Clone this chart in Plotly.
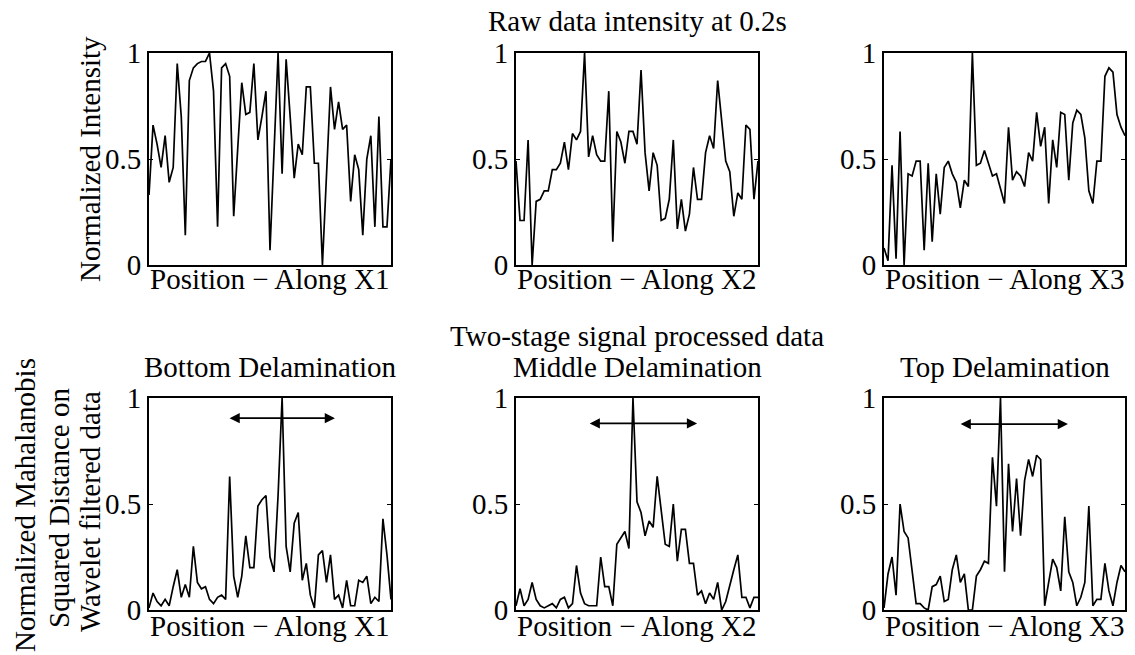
import plotly.graph_objects as go

W, H = 1135, 655

# ---------------- data ----------------
raw_x1 = [0.33, 0.66, 0.57, 0.46, 0.61, 0.39, 0.46, 0.95, 0.70, 0.14,
          0.87, 0.93, 0.95, 0.96, 0.96, 1.00, 0.82, 0.18, 0.93, 0.95,
          0.89, 0.23, 0.55, 0.86, 0.71, 0.72, 0.95, 0.59, 0.70, 0.82,
          0.07, 0.50, 1.00, 0.43, 0.97, 0.70, 0.41, 0.57, 0.52, 0.84,
          0.84, 0.48, 0.48, 0.00, 0.42, 0.84, 0.64, 0.77, 0.64, 0.66,
          0.30, 0.52, 0.45, 0.14, 0.50, 0.61, 0.18, 0.70, 0.18, 0.18,
          0.50]
raw_x2 = [0.49, 0.21, 0.21, 0.59, 0.00, 0.30, 0.31, 0.35, 0.35, 0.45,
          0.45, 0.48, 0.58, 0.45, 0.62, 0.59, 0.63, 1.00, 0.51, 0.61,
          0.52, 0.49, 0.49, 0.82, 0.11, 0.63, 0.58, 0.48, 0.63, 0.63,
          0.57, 0.92, 0.53, 0.35, 0.53, 0.47, 0.21, 0.22, 0.31, 0.59,
          0.17, 0.31, 0.16, 0.24, 0.46, 0.31, 0.31, 0.53, 0.61, 0.55,
          0.87, 0.67, 0.49, 0.44, 0.23, 0.34, 0.31, 0.66, 0.64, 0.31,
          0.49]
raw_x3 = [0.08, 0.02, 0.47, 0.03, 0.63, 0.00, 0.43, 0.42, 0.49, 0.49,
          0.07, 0.48, 0.11, 0.43, 0.24, 0.46, 0.49, 0.43, 0.39, 0.27,
          0.40, 0.37, 1.00, 0.47, 0.48, 0.54, 0.48, 0.42, 0.43, 0.36,
          0.29, 0.65, 0.40, 0.44, 0.42, 0.37, 0.53, 0.49, 0.72, 0.56,
          0.65, 0.29, 0.59, 0.46, 0.72, 0.71, 0.40, 0.67, 0.73, 0.71,
          0.60, 0.35, 0.29, 0.49, 0.49, 0.89, 0.93, 0.91, 0.71, 0.65,
          0.61]
proc_bottom = [0.01, 0.08, 0.04, 0.02, 0.05, 0.02, 0.11, 0.19, 0.06, 0.12,
               0.06, 0.30, 0.13, 0.10, 0.11, 0.05, 0.03, 0.06, 0.07, 0.05,
               0.63, 0.16, 0.06, 0.16, 0.35, 0.20, 0.20, 0.49, 0.52, 0.54,
               0.25, 0.18, 0.54, 1.00, 0.30, 0.18, 0.41, 0.46, 0.14, 0.22,
               0.07, 0.01, 0.26, 0.28, 0.13, 0.26, 0.05, 0.07, 0.01, 0.14,
               0.02, 0.02, 0.14, 0.13, 0.16, 0.03, 0.06, 0.04, 0.43, 0.26,
               0.05]
proc_middle = [0.02, 0.10, 0.02, 0.05, 0.13, 0.05, 0.02, 0.01, 0.02, 0.03,
               0.01, 0.05, 0.06, 0.01, 0.03, 0.21, 0.08, 0.03, 0.02, 0.02,
               0.02, 0.25, 0.11, 0.11, 0.02, 0.31, 0.34, 0.37, 0.29, 1.00,
               0.51, 0.46, 0.35, 0.42, 0.39, 0.63, 0.47, 0.31, 0.30, 0.50,
               0.23, 0.38, 0.38, 0.22, 0.22, 0.07, 0.09, 0.03, 0.08, 0.05,
               0.13, 0.00, 0.04, 0.12, 0.19, 0.26, 0.06, 0.06, 0.01, 0.06,
               0.06]
proc_top = [0.01, 0.17, 0.25, 0.07, 0.50, 0.37, 0.34, 0.18, 0.03, 0.03,
            0.01, 0.00, 0.11, 0.12, 0.16, 0.04, 0.05, 0.19, 0.26, 0.13,
            0.17, 0.00, 0.00, 0.16, 0.19, 0.23, 0.22, 0.72, 0.49, 1.00,
            0.18, 0.69, 0.37, 0.62, 0.35, 0.61, 0.71, 0.63, 0.73, 0.71,
            0.02, 0.13, 0.24, 0.20, 0.09, 0.44, 0.18, 0.13, 0.02, 0.06,
            0.13, 0.49, 0.02, 0.05, 0.05, 0.22, 0.09, 0.02, 0.13, 0.21,
            0.18]

series = [raw_x1, raw_x2, raw_x3, proc_bottom, proc_middle, proc_top]
xlabels = ["Position \u2212 Along X1", "Position \u2212 Along X2", "Position \u2212 Along X3"] * 2
panel_titles = ["Bottom Delamination", "Middle Delamination", "Top Delamination"]
row_titles = ["Raw data intensity at 0.2s", "Two-stage signal processed data"]
ylabel_top = "Normalized Intensity"
ylabel_bottom = ["Normalized Mahalanobis", "Squared Distance on", "Wavelet filtered data"]
ytick_vals = [0, 0.5, 1]
ytick_text = ["0", "0.5", "1"]
# delamination extent arrows (start, end, height) in data units of the bottom panels
arrow_spans = [(19.6, 46.1, 0.905), (17.9, 44.9, 0.88), (18.7, 45.8, 0.877)]

# ---------------- layout geometry (pixels) ----------------
FONT = "Liberation Serif"
FS = 29
col_px = [(149, 391), (516, 758), (884, 1125)]
row_px = [(53, 265), (398, 610)]

def px(x):
    return x / W

def py(y):
    return 1 - y / H

fig = go.Figure()
annotations = []
layout = {}

for i, vals in enumerate(series):
    r, c = divmod(i, 3)
    n = i + 1
    xa = "x" if n == 1 else f"x{n}"
    ya = "y" if n == 1 else f"y{n}"
    xs = list(range(len(vals)))
    fig.add_trace(go.Scatter(x=xs, y=vals, mode="lines",
                             line=dict(color="black", width=1.7),
                             xaxis=xa, yaxis=ya, showlegend=False,
                             hoverinfo="skip"))
    x0, x1 = col_px[c]
    y0, y1 = row_px[r]
    layout["xaxis" if n == 1 else f"xaxis{n}"] = dict(
        domain=[px(x0), px(x1)], anchor=ya, range=[0, len(vals) - 1],
        showgrid=False, zeroline=False, showline=True, mirror=True,
        linecolor="black", linewidth=2, ticks="", showticklabels=False,
        automargin=False)
    layout["yaxis" if n == 1 else f"yaxis{n}"] = dict(
        domain=[py(y1), py(y0)], anchor=xa, range=[0, 1],
        showgrid=False, zeroline=False, showline=True, mirror="ticks",
        linecolor="black", linewidth=2, ticks="inside", ticklen=4,
        tickwidth=1, tickcolor="black", automargin=False,
        tickvals=ytick_vals, ticktext=ytick_text,
        tickfont=dict(family=FONT, size=FS, color="black"))
    xl_y = 279 if r == 0 else 626
    annotations.append(dict(text=xlabels[i], x=px((x0 + x1) / 2), y=py(xl_y),
                            xref="paper", yref="paper", showarrow=False,
                            xanchor="center", yanchor="middle",
                            font=dict(family=FONT, size=FS, color="black")))
    if r == 1:
        a0, a1, ah = arrow_spans[c]
        annotations.append(dict(x=a1, y=ah, ax=a0, ay=ah,
                                xref=xa, yref=ya, axref=xa, ayref=ya,
                                text="", showarrow=True, arrowside="end+start",
                                arrowhead=2, arrowsize=1.2, arrowwidth=1.7,
                                arrowcolor="black"))

annotations.append(dict(text=row_titles[0], x=px(637), y=py(21),
                        xref="paper", yref="paper", showarrow=False,
                        xanchor="center", yanchor="middle",
                        font=dict(family=FONT, size=FS, color="black")))
annotations.append(dict(text=row_titles[1], x=px(637), y=py(336),
                        xref="paper", yref="paper", showarrow=False,
                        xanchor="center", yanchor="middle",
                        font=dict(family=FONT, size=FS, color="black")))
for c, t in enumerate(panel_titles):
    x0, x1 = col_px[c]
    annotations.append(dict(text=t, x=px((x0 + x1) / 2), y=py(367),
                            xref="paper", yref="paper", showarrow=False,
                            xanchor="center", yanchor="middle",
                            font=dict(family=FONT, size=FS, color="black")))

annotations.append(dict(text=ylabel_top, x=px(90), y=py(159), textangle=-90,
                        xref="paper", yref="paper", showarrow=False,
                        xanchor="center", yanchor="middle",
                        font=dict(family=FONT, size=FS, color="black")))
for xc, yc, t in zip([25, 59, 90], [505, 508, 512], ylabel_bottom):
    annotations.append(dict(text=t, x=px(xc), y=py(yc), textangle=-90,
                            xref="paper", yref="paper", showarrow=False,
                            xanchor="center", yanchor="middle",
                            font=dict(family=FONT, size=FS, color="black")))

fig.update_layout(
    template="none",
    width=W, height=H, autosize=False,
    margin=dict(l=0, r=0, t=0, b=0, pad=0),
    paper_bgcolor="white", plot_bgcolor="white",
    font=dict(family=FONT, size=FS, color="black"),
    annotations=annotations, showlegend=False,
    **layout)

fig.write_html("out.html")
